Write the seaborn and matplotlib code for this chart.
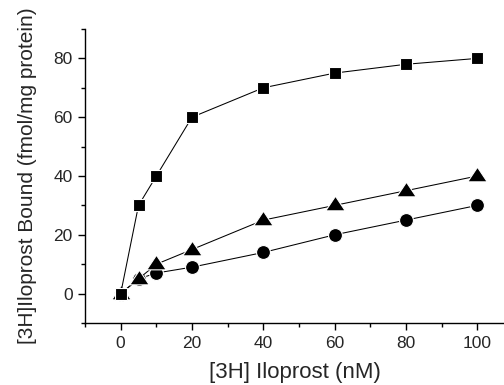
import pandas as pd
import matplotlib
matplotlib.use('Agg')
import matplotlib.pyplot as plt
import seaborn as sns
from matplotlib.ticker import MultipleLocator
from matplotlib.path import Path

conc = [0, 5, 10, 20, 40, 60, 80, 100]
square_vals = [0, 30, 40, 60, 70, 75, 78, 80]
triangle_vals = [0, 5, 10, 15, 25, 30, 35, 40]
circle_vals = [0, 5, 7, 9, 14, 20, 25, 30]

sns.set_style("ticks")
plt.rcParams['font.family'] = ['Liberation Sans', 'DejaVu Sans']

fig = plt.figure(figsize=(5.04, 3.85), dpi=100)
ax = fig.add_axes([0.1687, 0.161, 0.8313, 0.7637])

# flatter triangle, point sits nearer the base
tri = Path([(0, 0.95), (-1, -0.55), (1, -0.55), (0, 0.95)],
           [Path.MOVETO, Path.LINETO, Path.LINETO, Path.CLOSEPOLY])

styles = [(circle_vals, 'o', 10), (triangle_vals, tri, 14), (square_vals, 's', 9)]
for vals, mk, ms in styles:
    sns.lineplot(x=conc, y=vals, color='black', marker=mk, markersize=ms,
                 linewidth=0.75, markeredgecolor='white', markeredgewidth=0.8,
                 ax=ax)

ax.set_xlim(-10, 107.5)
ax.set_ylim(-10, 90)
ax.xaxis.set_major_locator(MultipleLocator(20))
ax.xaxis.set_minor_locator(MultipleLocator(10))
ax.yaxis.set_major_locator(MultipleLocator(20))
ax.yaxis.set_minor_locator(MultipleLocator(10))
ax.tick_params(which='major', direction='out', length=5, width=1, labelsize=12.5,
               color='black', pad=4)
ax.tick_params(which='minor', direction='out', length=3, width=1, color='black')
for s in ['left', 'bottom']:
    ax.spines[s].set_linewidth(1)
    ax.spines[s].set_color('black')
sns.despine(ax=ax)

ax.set_xlabel('[3H] Iloprost (nM)', fontsize=16, labelpad=8)
ax.set_ylabel('[3H]Iloprost Bound (fmol/mg protein)', fontsize=15, labelpad=12)

fig.savefig('out.png', dpi=100)
